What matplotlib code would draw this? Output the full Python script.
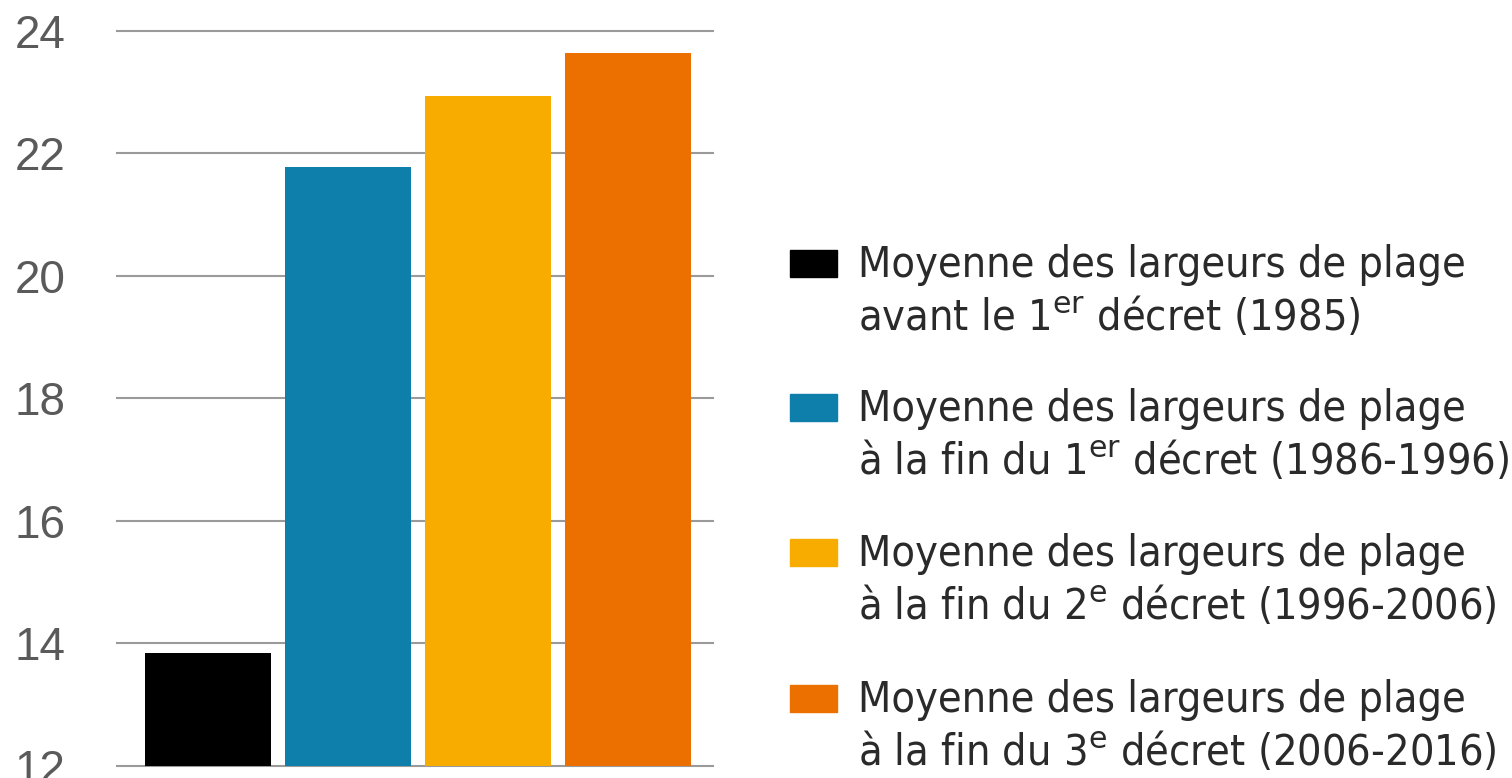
import matplotlib
matplotlib.use("Agg")
import matplotlib.pyplot as plt
from matplotlib.patches import Rectangle
from matplotlib import font_manager

# ---- data ----
categories = ["avant 1985", "1986-1996", "1996-2006", "2006-2016"]
values = [13.84, 21.78, 22.94, 23.63]
colors = ["#000000", "#0e7fab", "#f8ac00", "#ec7000"]
yticks = [12, 14, 16, 18, 20, 22, 24]
legend_line1 = ["Moyenne des largeurs de plage"] * 4
legend_line2 = [
    r"avant le 1$^{\mathrm{er}}$ décret (1985)",
    r"à la fin du 1$^{\mathrm{er}}$ décret (1986-1996)",
    r"à la fin du 2$^{\mathrm{e}}$ décret (1996-2006)",
    r"à la fin du 3$^{\mathrm{e}}$ décret (2006-2016)",
]

# pick a condensed font if one is installed
narrow = None
narrow_stretch = "normal"
for f in font_manager.fontManager.ttflist:
    fn = f.fname.lower()
    if ("condensed" in fn or "narrow" in fn) and "bold" not in fn and "italic" not in fn \
            and "oblique" not in fn and "light" not in fn:
        narrow = f.name
        narrow_stretch = f.stretch
        break
if narrow is None:
    narrow = "Roboto"
from matplotlib.font_manager import FontProperties
legend_fp = FontProperties(family=narrow, stretch=narrow_stretch)

plt.rcParams["mathtext.fontset"] = "custom"
plt.rcParams["mathtext.rm"] = narrow
plt.rcParams["mathtext.it"] = narrow
plt.rcParams["mathtext.bf"] = narrow

W, H = 1512, 778
fig = plt.figure(figsize=(W / 100, H / 100), dpi=100)
ax = fig.add_axes([117 / W, 1 - 765.7 / H, (713 - 117) / W, (765.7 - 30.7) / H])

x = list(range(len(values)))
ax.bar(x, values, width=0.9, color=colors, zorder=3)
ax.set_xlim(-0.65, 3.607)
ax.set_ylim(12, 24)
ax.set_yticks(yticks)
ax.set_yticklabels([str(t) for t in yticks], fontsize=33, color="#5a5a5a",
                   family="Liberation Sans")
ax.tick_params(axis="y", length=0, pad=37)
ax.set_xticks([])
for s in ax.spines.values():
    s.set_visible(False)
ax.grid(axis="y", color="#9a9a9a", linewidth=1.5, zorder=0)
ax.set_axisbelow(True)
for gl in ax.get_ygridlines():
    gl.set_clip_on(False)

# ---- legend (manual, first line aligned with marker) ----
# fit the font size so the first line spans ~608 px like the reference
renderer = fig.canvas.get_renderer()
probe = fig.text(0, 0, legend_line1[0], fontproperties=legend_fp, fontsize=30)
wpx = probe.get_window_extent(renderer).width
probe.remove()
fs = min(30 * 608 / wpx, 32)

baselines = [277, 421, 566, 712]
for i in range(len(values)):
    b = baselines[i]
    fig.patches.append(Rectangle((790 / W, 1 - b / H), 47 / W, 27 / H,
                                 transform=fig.transFigure, color=colors[i]))
    fig.text(858 / W, 1 - b / H, legend_line1[i], fontproperties=legend_fp, fontsize=fs,
             color="#2a2a2a", va="baseline", ha="left")
    fig.text(858 / W, 1 - (b + 53) / H, legend_line2[i], fontproperties=legend_fp,
             fontsize=fs, color="#2a2a2a", va="baseline", ha="left")

fig.savefig("out.png", dpi=100)
